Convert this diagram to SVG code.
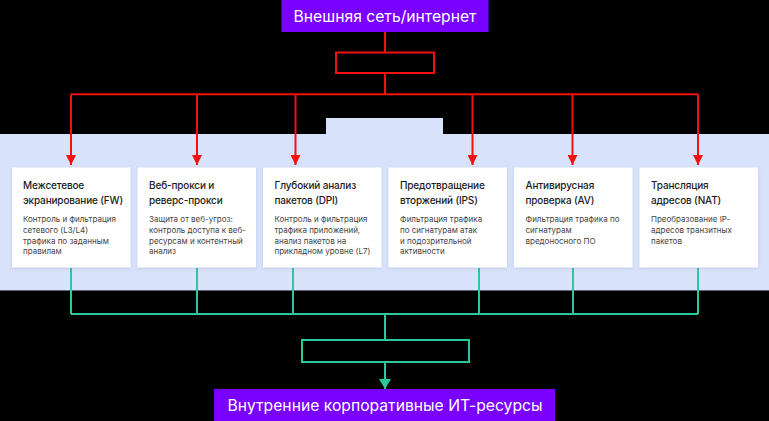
<svg xmlns="http://www.w3.org/2000/svg" width="769" height="421" viewBox="0 0 769 421">
<defs>
<style>
.bg{fill:#000}
.panel{fill:#d9e2fb}
.term{fill:#7a00ff}
.termtxt{font-family:Inter,"Noto Sans",sans-serif;font-size:15.7px;fill:#fff;text-anchor:middle}
.card{fill:#fff;filter:url(#sh)}
.title{font-family:Inter,"Noto Sans",sans-serif;font-size:10px;font-weight:500;letter-spacing:-0.15px;fill:#1c1c1c}
.desc{font-family:Inter,"Noto Sans",sans-serif;font-size:8px;fill:#444}
.red{stroke:#f51010;stroke-width:2;fill:none}
.grn{stroke:#2cc79f;stroke-width:2;fill:none}
</style>
<filter id="sh" x="-10%" y="-10%" width="120%" height="125%">
<feDropShadow dx="0" dy="1" stdDeviation="1.5" flood-color="#5a6690" flood-opacity="0.22"/>
</filter>
<marker id="ar" viewBox="0 0 10 10" refX="10" refY="5" markerWidth="10" markerHeight="10" markerUnits="userSpaceOnUse" orient="auto">
<path d="M0,0 L10,5 L0,10 z" fill="#f51010"/>
</marker>
<marker id="ag" viewBox="0 0 10 12" refX="10" refY="6" markerWidth="10" markerHeight="12" markerUnits="userSpaceOnUse" orient="auto">
<path d="M0,0 L10,6 L0,12 z" fill="#2cc79f"/>
</marker>
</defs>
<rect class="bg" x="0" y="0" width="769" height="421"/>
<rect class="panel" x="0" y="134" width="769" height="156"/>
<rect class="panel" x="326" y="118" width="117" height="17"/>
<line x1="0" y1="290.5" x2="769" y2="290.5" stroke="#5d6272" stroke-width="1"/>

<g id="connectors">
<path class="red" d="M385,32 V52 M385,73 V94.3 M71,94.3 H698"/>
<rect class="red" x="336" y="52.5" width="98" height="20.5"/>
<path class="red" marker-end="url(#ar)" d="M71,94.3 V165"/>
<path class="red" marker-end="url(#ar)" d="M197,94.3 V165"/>
<path class="red" marker-end="url(#ar)" d="M295.5,94.3 V165"/>
<path class="red" marker-end="url(#ar)" d="M472.5,94.3 V165"/>
<path class="red" marker-end="url(#ar)" d="M572.5,94.3 V165"/>
<path class="red" marker-end="url(#ar)" d="M698,94.3 V165"/>
<path class="grn" d="M71,268 V314 M197,268 V314 M293,268 V314 M479,268 V314 M573,268 V314 M698,268 V314 M71,314 H698 M385,314 V340"/>
<rect class="grn" x="302" y="340" width="167" height="22"/>
<path class="grn" marker-end="url(#ag)" d="M385,362 V389"/>
</g>

<g id="internet">
<rect class="term" x="281.5" y="0" width="207" height="32"/>
<text class="termtxt" x="385" y="21.5">Внешняя сеть/интернет</text>
</g>

<g id="internal">
<rect class="term" x="214" y="389" width="341" height="32"/>
<text class="termtxt" x="385" y="410.5">Внутренние корпоративные ИТ-ресурсы</text>
</g>

<g id="fw">
<rect class="card" x="12" y="167.5" width="118.5" height="100"/>
<text class="title" x="23" y="189"><tspan x="23">Межсетевое</tspan><tspan x="23" dy="14.5">экранирование (FW)</tspan></text>
<text class="desc" x="23" y="222"><tspan x="23">Контроль и фильтрация</tspan><tspan x="23" dy="10.8">сетевого (L3/L4)</tspan><tspan x="23" dy="10.8">трафика по заданным</tspan><tspan x="23" dy="10.8">правилам</tspan></text>
</g>

<g id="proxy">
<rect class="card" x="137.5" y="167.5" width="118.5" height="100"/>
<text class="title" x="149" y="189"><tspan x="149">Веб-прокси и</tspan><tspan x="149" dy="14.5">реверс-прокси</tspan></text>
<text class="desc" x="149" y="222"><tspan x="149">Защита от веб-угроз:</tspan><tspan x="149" dy="10.8">контроль доступа к веб-</tspan><tspan x="149" dy="10.8">ресурсам и контентный</tspan><tspan x="149" dy="10.8">анализ</tspan></text>
</g>

<g id="dpi">
<rect class="card" x="263" y="167.5" width="118.5" height="100"/>
<text class="title" x="274.5" y="189"><tspan x="274.5">Глубокий анализ</tspan><tspan x="274.5" dy="14.5">пакетов (DPI)</tspan></text>
<text class="desc" x="274.5" y="222"><tspan x="274.5">Контроль и фильтрация</tspan><tspan x="274.5" dy="10.8">трафика приложений,</tspan><tspan x="274.5" dy="10.8">анализ пакетов на</tspan><tspan x="274.5" dy="10.8">прикладном уровне (L7)</tspan></text>
</g>

<g id="ips">
<rect class="card" x="388.5" y="167.5" width="118.5" height="100"/>
<text class="title" x="400" y="189"><tspan x="400">Предотвращение</tspan><tspan x="400" dy="14.5">вторжений (IPS)</tspan></text>
<text class="desc" x="400" y="222"><tspan x="400">Фильтрация трафика</tspan><tspan x="400" dy="10.8">по сигнатурам атак</tspan><tspan x="400" dy="10.8">и подозрительной</tspan><tspan x="400" dy="10.8">активности</tspan></text>
</g>

<g id="av">
<rect class="card" x="514" y="167.5" width="118.5" height="100"/>
<text class="title" x="525.5" y="189"><tspan x="525.5">Антивирусная</tspan><tspan x="525.5" dy="14.5">проверка (AV)</tspan></text>
<text class="desc" x="525.5" y="222"><tspan x="525.5">Фильтрация трафика по</tspan><tspan x="525.5" dy="10.8">сигнатурам</tspan><tspan x="525.5" dy="10.8">вредоносного ПО</tspan></text>
</g>

<g id="nat">
<rect class="card" x="639.5" y="167.5" width="118.5" height="100"/>
<text class="title" x="651" y="189"><tspan x="651">Трансляция</tspan><tspan x="651" dy="14.5">адресов (NAT)</tspan></text>
<text class="desc" x="651" y="222"><tspan x="651">Преобразование IP-</tspan><tspan x="651" dy="10.8">адресов транзитных</tspan><tspan x="651" dy="10.8">пакетов</tspan></text>
</g>
</svg>
